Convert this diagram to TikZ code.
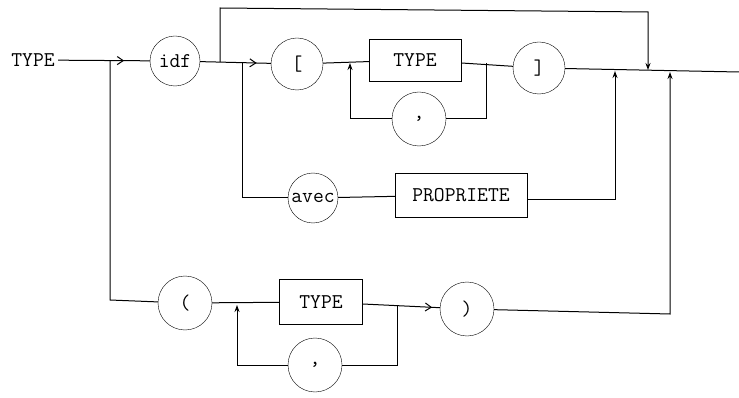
\documentclass[tikz,border=0pt]{standalone}
\usepackage{tikz}
\usetikzlibrary{arrows.meta, decorations.markings}
\tikzset{
  term/.style    = {circle, draw, minimum size=50pt, inner sep=0pt,
                    font=\ttfamily\fontsize{21}{23}\selectfont},
  nonterm/.style = {rectangle, draw, minimum width=92pt, minimum height=42pt,
                    font=\ttfamily\fontsize{21}{23}\selectfont},
  label/.style   = {font=\ttfamily\fontsize{21}{23}\selectfont},
  rail/.style    = {line width=1pt},
  uparrow/.style = {line width=1pt, -{Stealth[length=7pt,width=5pt]}},
  midarrow/.style = {line width=1pt, postaction={decorate},
                     decoration={markings, mark=at position #1 with {\arrow{Straight Barb[length=6pt,width=8pt]}}}},
}

\begin{document}
\begin{tikzpicture}[x=1pt, y=-1pt]
    \useasboundingbox (0,0) rectangle (739,398);

    %% Upper row
    \node[label]   (type) at (33, 60)  {TYPE};
    \node[term]    (idf)  at (175,61)  {idf};
    \node[term, minimum size=52pt] (lbr) at (297,64) {[};
    \node[nonterm] (tya)  at (415,60)  {TYPE};
    \node[term, minimum size=54pt] (cma) at (419,119) {,};
    \node[term, minimum size=52pt] (rbr) at (539,68) {]};

    %% Middle row
    \node[term]    (avec) at (313,198) {avec};
    \node[nonterm, minimum width=132pt, minimum height=44pt] (prop) at (461,195) {PROPRIETE};

    %% Lower row
    \node[term, minimum size=54pt] (lpar) at (185,303) {(};
    \node[nonterm, minimum width=83pt, minimum height=45pt] (tyb) at (321,302) {TYPE};
    \node[term, minimum size=54pt] (cmb) at (315,365) {,};
    \node[term, minimum size=54pt] (rpar) at (467,309) {)};

    %% Junctions
    \coordinate (j1) at (110,61);
    \coordinate (j2) at (110,300);
    \coordinate (j3) at (242,63);
    \coordinate (j4) at (242,198);
    \coordinate (b1) at (220,62);
    \coordinate (b2) at (220,8);
    \coordinate (b3) at (648,12);
    \coordinate (b4) at (648,70);
    \coordinate (l1) at (350,63);
    \coordinate (l2) at (350,119);
    \coordinate (r1) at (486,63);
    \coordinate (r2) at (486,119);
    \coordinate (p1) at (615,200);
    \coordinate (p2) at (615,71);
    \coordinate (q1) at (237,305);
    \coordinate (q2) at (237,365);
    \coordinate (s1) at (397,306);
    \coordinate (s2) at (397,365);
    \coordinate (t1) at (670,314);
    \coordinate (t2) at (670,72);
    \coordinate (out) at (739,72);

    %% Upper rails
    \draw[midarrow=0.72] (type) -- (idf);
    \draw[rail] (j1) -- (j2) -- (lpar);
    \draw[midarrow=0.8] (idf) -- (lbr);
    \draw[rail] (j3) -- (j4) -- (avec);
    \draw[uparrow] (b1) -- (b2) -- (b3) -- (b4);
    \draw[rail] (lbr) -- (tya);
    \draw[rail] (tya) -- (rbr);
    \draw[rail] (r1) -- (r2) -- (cma);
    \draw[uparrow] (cma) -- (l2) -- (l1);
    \draw[rail] (rbr) -- (out);

    %% Middle rails
    \draw[rail] (avec) -- (prop);
    \draw[uparrow] (prop.east |- p1) -- (p1) -- (p2);

    %% Lower rails
    \draw[rail] (lpar) -- (tyb);
    \draw[midarrow=0.9] (tyb) -- (rpar);
    \draw[rail] (s1) -- (s2) -- (cmb);
    \draw[uparrow] (cmb) -- (q2) -- (q1);
    \draw[uparrow] (rpar) -- (t1) -- (t2);

  \end{tikzpicture}
\end{document}
